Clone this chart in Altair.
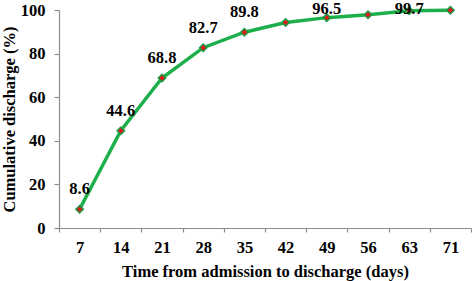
import altair as alt
import pandas as pd

days = ["7", "14", "21", "28", "35", "42", "49", "56", "63", "71"]
cumulative = [8.6, 44.6, 68.8, 82.7, 89.8, 94.3, 96.5, 97.8, 99.7, 99.9]
labels = ["8.6", "44.6", "68.8", "82.7", "89.8", "", "96.5", "", "99.7", ""]

df = pd.DataFrame({"day": days, "value": cumulative, "label": labels})

FONT = "Liberation Serif"

x = alt.X("day:O", sort=days, bandPosition=0.5,
          scale=alt.Scale(type="band", paddingInner=0, paddingOuter=0),
          axis=alt.Axis(title="Time from admission to discharge (days)", labelAngle=0,
                        tickBand="extent", tickSize=4, labelPadding=7, titlePadding=8))
y = alt.Y("value:Q", scale=alt.Scale(domain=[0, 100]),
          axis=alt.Axis(title="Cumulative discharge (%)", values=[0, 20, 40, 60, 80, 100],
                        grid=False, tickSize=5, labelPadding=9, titlePadding=3))

base = alt.Chart(df)

line = base.mark_line(color="#1DAF4B", strokeWidth=3.5).encode(x=x, y=y)
pts = base.mark_point(shape="diamond", filled=True, fill="#E3171B", stroke="#1E9A45",
                      strokeWidth=1.5, size=55, opacity=1).encode(x=x, y=y)
txt = base.transform_calculate(
    ly="min(datum.value + 9.2, 100.3)"
).mark_text(font=FONT, fontWeight="bold", fontSize=16.5, color="black", baseline="middle").encode(
    x=x, y=alt.Y("ly:Q"), text="label:N")

chart = alt.layer(line, pts, txt).properties(
    width=412, height=218,
    autosize=alt.AutoSizeParams(type="none"),
    padding={"left": 59, "top": 10, "right": 1, "bottom": 53},
).configure_view(stroke=None).configure_axis(
    labelFont=FONT, titleFont=FONT, labelFontSize=16.5, titleFontSize=16.5,
    labelFontWeight="bold", titleFontWeight="bold", labelColor="black", titleColor="black",
    domainColor="#8c8c8c", tickColor="#8c8c8c", domainWidth=1.2, tickWidth=1.2, grid=False
)

chart.save("out.html", embed_options={"renderer": "svg", "actions": False})
